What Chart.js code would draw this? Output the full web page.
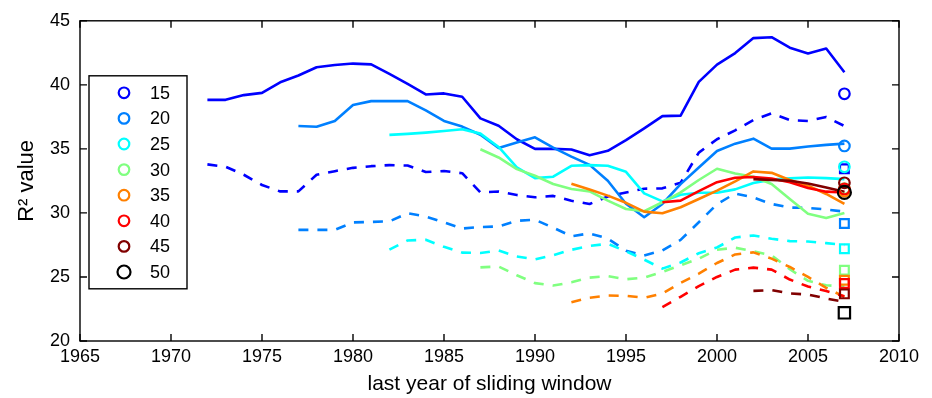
<!DOCTYPE html>
<html lang="en">
<head>
  <meta charset="UTF-8" />
  <title>R2 value by sliding window</title>
  <script src="https://cdn.jsdelivr.net/npm/chart.js"></script>
  <style>
    html, body { margin: 0; padding: 0; background: #fff; }
    .chart-box { position: relative; width: 932px; height: 398px; }
    canvas { display: block; }
  </style>
</head>
<body>
  <div class="chart-box"><canvas id="r2Chart" width="932" height="398"></canvas></div>

<script>
  // last year of the sliding window
  const years = [1972, 1973, 1974, 1975, 1976, 1977, 1978, 1979, 1980, 1981, 1982, 1983,
                 1984, 1985, 1986, 1987, 1988, 1989, 1990, 1991, 1992, 1993, 1994, 1995,
                 1996, 1997, 1998, 1999, 2000, 2001, 2002, 2003, 2004, 2005, 2006, 2007];
  const windows = [15, 20, 25, 30, 35, 40, 45, 50];
  const markerYear = 2007;

  // solid lines (one per window length)
  const solid15 = [38.83, 38.83, 39.2, 39.37, 40.2, 40.73, 41.37, 41.55, 41.66, 41.6, 40.85, 40.07,
                   39.25, 39.33, 39.07, 37.38, 36.8, 35.75, 35.0, 35.0, 34.95, 34.5, 34.85, 35.68,
                   36.6, 37.56, 37.6, 40.23, 41.58, 42.48, 43.65, 43.72, 42.9, 42.45, 42.84, 40.98];
  const solid20 = [null, null, null, null, null, 36.79, 36.73, 37.18, 38.42, 38.73, 38.73, 38.73,
                   38.0, 37.18, 36.74, 36.1, 35.07, 35.5, 35.9, 35.1, 34.4, 33.75, 32.51, 30.72,
                   29.66, 30.7, 32.25, 33.55, 34.84, 35.41, 35.8, 35.02, 35.02, 35.18, 35.31, 35.41];
  const solid25 = [null, null, null, null, null, null, null, null, null, null, 36.09, 36.17,
                   36.27, 36.4, 36.53, 36.19, 35.15, 33.55, 32.72, 32.83, 33.68, 33.73, 33.68, 33.21,
                   31.53, 30.9, 31.42, 31.58, 31.58, 31.84, 32.34, 32.6, 32.7, 32.77, 32.72, 32.64];
  const solid30 = [null, null, null, null, null, null, null, null, null, null, null, null,
                   null, null, null, 34.97, 34.33, 33.42, 32.9, 32.26, 31.87, 31.68, 30.96, 30.31,
                   30.13, 30.83, 31.6, 32.57, 33.45, 33.08, 32.82, 32.26, 31.09, 29.93, 29.61, 30.0];
  const solid35 = [null, null, null, null, null, null, null, null, null, null, null, null,
                   null, null, null, null, null, null, null, null, 32.28, 31.83, 31.35, 30.79,
                   30.1, 29.97, 30.44, 31.09, 31.74, 32.46, 33.24, 33.13, 32.57, 32.13, 31.48, 30.7];
  const solid40 = [null, null, null, null, null, null, null, null, null, null, null, null,
                   null, null, null, null, null, null, null, null, null, null, null, null,
                   null, 30.83, 30.96, 31.7, 32.4, 32.74, 32.8, 32.68, 32.4, 31.95, 31.66, 31.6];
  const solid45 = [null, null, null, null, null, null, null, null, null, null, null, null,
                   null, null, null, null, null, null, null, null, null, null, null, null,
                   null, null, null, null, null, null, 32.64, 32.57, 32.51, 32.3, 31.99, 31.66];

  // dashed lines
  const dashed15 = [33.79, 33.6, 32.98, 32.18, 31.68, 31.68, 32.98, 33.26, 33.52, 33.65, 33.73, 33.7,
                    33.19, 33.27, 33.1, 31.6, 31.67, 31.4, 31.22, 31.33, 30.95, 30.7, 31.28, 31.6,
                    31.89, 31.92, 32.35, 34.71, 35.75, 36.45, 37.25, 37.77, 37.25, 37.18, 37.49, 36.79];
  const dashed20 = [null, null, null, null, null, 28.68, 28.68, 28.68, 29.26, 29.3, 29.34, 29.97,
                    29.72, 29.27, 28.78, 28.9, 28.94, 29.38, 29.47, 28.85, 28.18, 28.4, 28.0, 27.05,
                    26.68, 27.07, 27.9, 29.27, 30.68, 31.52, 31.2, 30.7, 30.42, 30.39, 30.27, 30.1];
  const dashed25 = [null, null, null, null, null, null, null, null, null, null, 27.13, 27.85,
                    27.9, 27.35, 26.9, 26.87, 27.07, 26.6, 26.37, 26.7, 27.12, 27.42, 27.59, 27.0,
                    26.35, 25.65, 26.13, 26.85, 27.3, 28.08, 28.24, 27.98, 27.8, 27.77, 27.64, 27.5];
  const dashed30 = [null, null, null, null, null, null, null, null, null, null, null, null,
                    null, null, null, 25.75, 25.82, 25.13, 24.52, 24.33, 24.58, 24.95, 25.06, 24.82,
                    24.95, 25.39, 25.91, 26.43, 27.13, 27.28, 27.0, 26.69, 25.6, 24.7, 24.35, 24.25];
  const dashed35 = [null, null, null, null, null, null, null, null, null, null, null, null,
                    null, null, null, null, null, null, null, null, 23.02, 23.38, 23.55, 23.53,
                    23.38, 23.71, 24.54, 25.26, 26.09, 26.76, 26.92, 26.43, 25.78, 25.0, 24.15, 23.45];
  const dashed40 = [null, null, null, null, null, null, null, null, null, null, null, null,
                    null, null, null, null, null, null, null, null, null, null, null, null,
                    null, 22.65, 23.45, 24.28, 25.0, 25.57, 25.73, 25.57, 24.8, 24.25, 23.9, 23.5];
  const dashed45 = [null, null, null, null, null, null, null, null, null, null, null, null,
                    null, null, null, null, null, null, null, null, null, null, null, null,
                    null, null, null, null, null, null, 23.91, 23.97, 23.71, 23.63, 23.32, 23.06];

  // end markers at the last year (circles = solid, squares = dashed), one per window
  const endCircles = [39.3, 35.23, 33.6, 31.9, 31.7, 31.87, 32.35, 31.6];
  const endSquares = [33.45, 29.17, 27.2, 25.52, 24.75, 24.49, 23.68, 22.2];

  const xTicks = [1965, 1970, 1975, 1980, 1985, 1990, 1995, 2000, 2005, 2010];
  const yTicks = [20, 25, 30, 35, 40, 45];

  // styling
  const colors = ["#0000ff", "#0080ff", "#00ffff", "#80ff80", "#ff8000", "#ff0000", "#800000", "#000000"];
  const solidSeries = [solid15, solid20, solid25, solid30, solid35, solid40, solid45];
  const dashedSeries = [dashed15, dashed20, dashed25, dashed30, dashed35, dashed40, dashed45];
  const FONT = "'Liberation Sans', Arial, Helvetica, sans-serif";

  const toPoints = vals => years.map((yr, i) => ({ x: yr, y: vals[i] }));

  const datasets = [];
  let seq = 0;
  solidSeries.forEach((vals, k) => {
    datasets.push({
      type: "line", label: windows[k] + " solid", data: toPoints(vals),
      borderColor: colors[k], borderWidth: 2.6, pointRadius: 0,
      borderJoinStyle: "round", tension: 0, spanGaps: false, order: -(seq++)
    });
    datasets.push({
      type: "line", label: windows[k] + " dashed", data: toPoints(dashedSeries[k]),
      borderColor: colors[k], borderWidth: 2.6, borderDash: [10, 9], pointRadius: 0,
      borderJoinStyle: "round", tension: 0, spanGaps: false, order: -(seq++)
    });
  });
  windows.forEach((w, k) => {
    const big = w === 50;
    datasets.push({
      type: "scatter", label: w + " square", data: [{ x: markerYear, y: endSquares[k] }],
      pointStyle: "rect", pointRadius: big ? 8 : 6.2, borderColor: colors[k],
      backgroundColor: "rgba(0,0,0,0)", pointBorderWidth: 2.2, order: -(seq++)
    });
  });
  windows.forEach((w, k) => {
    const big = w === 50;
    datasets.push({
      type: "scatter", label: w + " circle", data: [{ x: markerYear, y: endCircles[k] }],
      pointStyle: "circle", pointRadius: big ? 6.5 : 5.3, borderColor: colors[k],
      backgroundColor: "rgba(0,0,0,0)", pointBorderWidth: 2.2, order: -(seq++)
    });
  });

  // frame all round with inward ticks, like the original axes box
  const boxTicks = {
    id: "boxTicks",
    afterDraw(chart) {
      const { ctx, chartArea: a, scales: { x, y } } = chart;
      const len = 7;
      ctx.save();
      ctx.strokeStyle = "#000";
      ctx.lineWidth = 1.4;
      ctx.strokeRect(a.left, a.top, a.right - a.left, a.bottom - a.top);
      ctx.beginPath();
      xTicks.forEach(v => {
        const px = x.getPixelForValue(v);
        ctx.moveTo(px, a.bottom); ctx.lineTo(px, a.bottom - len);
        ctx.moveTo(px, a.top); ctx.lineTo(px, a.top + len);
      });
      yTicks.forEach(v => {
        const py = y.getPixelForValue(v);
        ctx.moveTo(a.left, py); ctx.lineTo(a.left + len, py);
        ctx.moveTo(a.right, py); ctx.lineTo(a.right - len, py);
      });
      ctx.stroke();
      ctx.restore();
    }
  };

  // boxed legend in the upper left of the plot
  const legendBox = {
    id: "legendBox",
    afterDraw(chart) {
      const { ctx, chartArea: a } = chart;
      const left = a.left + 9, top = a.top + 55, w = 98, h = 213;
      ctx.save();
      ctx.fillStyle = "#fff";
      ctx.fillRect(left, top, w, h);
      ctx.strokeStyle = "#000";
      ctx.lineWidth = 1.4;
      ctx.strokeRect(left, top, w, h);
      ctx.font = "18px " + FONT;
      ctx.textBaseline = "middle";
      windows.forEach((wl, k) => {
        const cy = top + 17 + k * 25.6;
        ctx.beginPath();
        ctx.lineWidth = 2.2;
        ctx.strokeStyle = colors[k];
        ctx.arc(left + 35, cy, wl === 50 ? 6.5 : 5.3, 0, Math.PI * 2);
        ctx.stroke();
        ctx.fillStyle = "#000";
        ctx.fillText(String(wl), left + 61, cy + 1);
      });
      ctx.restore();
    }
  };

  new Chart(document.getElementById("r2Chart"), {
    data: { datasets },
    options: {
      responsive: false,
      animation: false,
      layout: { padding: { left: 0, right: 33, top: 19, bottom: 0 } },
      plugins: { legend: { display: false }, tooltip: { enabled: false } },
      scales: {
        x: {
          type: "linear", min: 1965, max: 2010,
          afterBuildTicks: s => { s.ticks = xTicks.map(v => ({ value: v })); },
          afterFit: s => { s.height = 57; },
          grid: { display: false, drawTicks: false },
          border: { display: false },
          ticks: { color: "#000", padding: 5, maxRotation: 0, font: { family: FONT, size: 18 }, callback: v => String(v) },
          title: { display: true, text: "last year of sliding window", color: "#000",
                   font: { family: FONT, size: 21 }, padding: { top: 0, bottom: 1 } }
        },
        y: {
          type: "linear", min: 20, max: 45,
          afterBuildTicks: s => { s.ticks = yTicks.map(v => ({ value: v })); },
          afterFit: s => { s.width = 80; },
          grid: { display: false, drawTicks: false },
          border: { display: false },
          ticks: { color: "#000", padding: 10, font: { family: FONT, size: 18 }, callback: v => String(v) },
          title: { display: true, text: "R² value", color: "#000",
                   font: { family: FONT, size: 22 }, padding: { top: 14, bottom: 0 } }
        }
      }
    },
    plugins: [boxTicks, legendBox]
  });
</script>
</body>
</html>
